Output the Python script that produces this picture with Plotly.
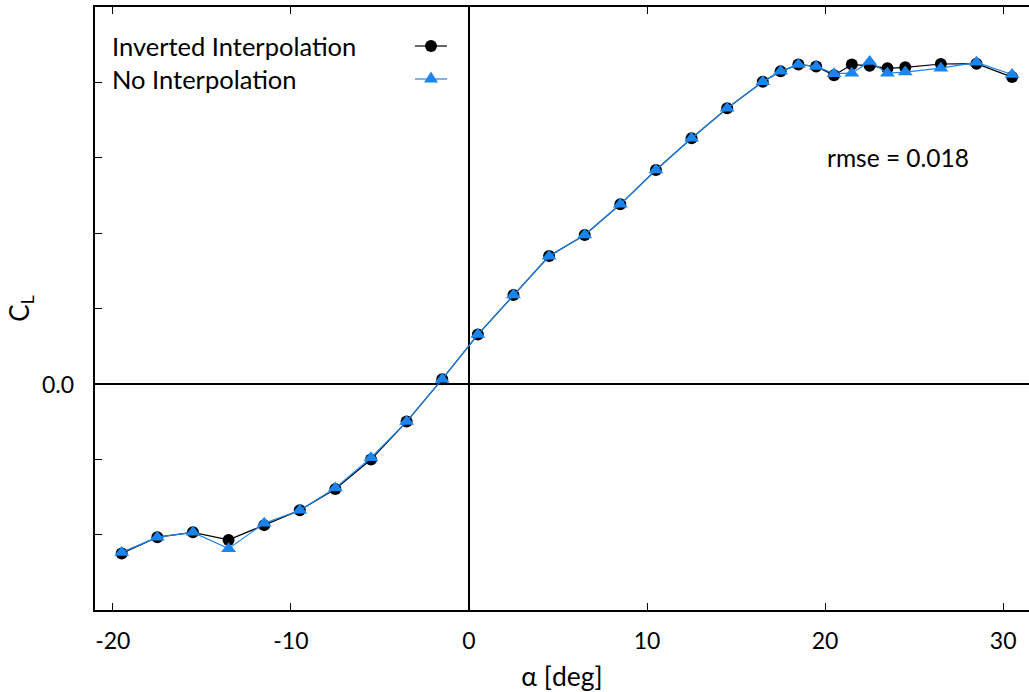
import plotly.graph_objects as go

# ---- data ----
alpha = [-19.5, -17.5, -15.5, -13.5, -11.5, -9.5, -7.5, -5.5, -3.5, -1.5,
         0.5, 2.5, 4.5, 6.5, 8.5, 10.5, 12.5, 14.5, 16.5,
         17.5, 18.5, 19.5, 20.5, 21.5, 22.5, 23.5, 24.5,
         26.5, 28.5, 30.5]
cl_inverted = [-1.125, -1.017, -0.985, -1.035, -0.937, -0.838, -0.697, -0.502, -0.250, 0.031,
               0.327, 0.590, 0.848, 0.988, 1.191, 1.419, 1.629, 1.828, 2.004,
               2.073, 2.118, 2.106, 2.047, 2.118, 2.111, 2.093, 2.100,
               2.122, 2.124, 2.035]
cl_none = [-1.118, -1.017, -0.985, -1.093, -0.925, -0.838, -0.690, -0.490, -0.250, 0.031,
           0.327, 0.590, 0.846, 0.988, 1.191, 1.419, 1.629, 1.828, 2.004,
           2.073, 2.118, 2.106, 2.058, 2.061, 2.139, 2.061, 2.068,
           2.094, 2.133, 2.052]
series_names = ["Inverted Interpolation", "No Interpolation"]
rmse_text = "rmse = 0.018"
x_title = "α [deg]"
y_title = "C<sub>L</sub>"
x_tickvals = [-20, -10, 0, 10, 20, 30]
x_ticktext = ["-20", "-10", "0", "10", "20", "30"]
y_tickvals = [-1.0, -0.5, 0.0, 0.5, 1.0, 1.5, 2.0]
y_label_value = 0.0
y_label_text = "0.0"

# ---- layout geometry (pixels) ----
W, H = 1029, 692
ML, MR, MT, MB = 95, 0, 7, 82
PW, PH = W - ML - MR, H - MT - MB
BLUE = "#1a85ee"
FONT = "Lato"


def px(xp):
    return (xp - ML) / PW


def py(yp):
    return (H - MB - yp) / PH


fig = go.Figure()
fig.add_trace(go.Scatter(
    x=alpha, y=cl_inverted, mode="lines+markers", name=series_names[0],
    line=dict(color="black", width=1.2),
    marker=dict(symbol="circle", size=12, color="black"),
    showlegend=False))
fig.add_trace(go.Scatter(
    x=alpha, y=cl_none, mode="lines+markers", name=series_names[1],
    line=dict(color=BLUE, width=1.2),
    marker=dict(symbol="triangle-up", size=13, color=BLUE),
    showlegend=False))

# legend keys drawn as shapes (marker sample to the right of the text)
leg_y = [46, 79]
leg_colors = ["black", BLUE]
for i, (yy, col) in enumerate(zip(leg_y, leg_colors)):
    fig.add_shape(type="line", xref="paper", yref="paper", x0=px(415), x1=px(447),
                  y0=py(yy), y1=py(yy), line=dict(color=col, width=1.2))
    if i == 0:
        fig.add_shape(type="circle", xref="paper", yref="paper", xsizemode="pixel",
                      ysizemode="pixel", xanchor=px(431), yanchor=py(yy),
                      x0=-6, x1=6, y0=-6, y1=6, fillcolor=col, line=dict(width=0))
    else:
        fig.add_shape(type="path", xref="paper", yref="paper", xsizemode="pixel",
                      ysizemode="pixel", xanchor=px(431), yanchor=py(yy),
                      path="M-7,-3.5 L7,-3.5 L0,7.5 Z", fillcolor=col, line=dict(width=0))
    fig.add_annotation(x=px(110), y=py(yy), xref="paper", yref="paper", text=series_names[i],
                       showarrow=False, xanchor="left", yanchor="middle",
                       font=dict(family=FONT, size=25.5, color="black"))

fig.add_annotation(x=px(825), y=py(158), xref="paper", yref="paper", text=rmse_text,
                   showarrow=False, xanchor="left", yanchor="middle",
                   font=dict(family=FONT, size=24.5, color="black"))
# the single labelled y tick
fig.add_annotation(x=px(76), y=y_label_value, xref="paper", yref="y", text=y_label_text,
                   showarrow=False, xanchor="right", yanchor="middle",
                   font=dict(family=FONT, size=23, color="black"))

fig.update_layout(
    width=W, height=H, margin=dict(l=ML, r=MR, t=MT, b=MB),
    paper_bgcolor="white", plot_bgcolor="white",
    font=dict(family=FONT, size=23, color="black"),
    xaxis=dict(range=[-21, 31.45], tickvals=x_tickvals, ticktext=x_ticktext, ticks="inside", ticklen=7,
               tickwidth=1.3, tickcolor="black", showline=True, linecolor="black", linewidth=2,
               mirror="ticks", showgrid=False, zeroline=True, zerolinecolor="black",
               zerolinewidth=1.5, ticklabelstandoff=9, automargin=False,
               title=dict(text=x_title, standoff=19, font=dict(family=FONT, size=26.5))),
    yaxis=dict(range=[-1.5, 2.5], tickvals=y_tickvals, showticklabels=False, ticks="inside",
               ticklen=7, tickwidth=1.3, tickcolor="black", showline=True, linecolor="black",
               linewidth=2, mirror=False, showgrid=False, zeroline=True, zerolinecolor="black",
               zerolinewidth=1.5, automargin=False,
               title=dict(text=y_title, standoff=56, font=dict(family=FONT, size=26))),
)

fig.write_html("out.html")
